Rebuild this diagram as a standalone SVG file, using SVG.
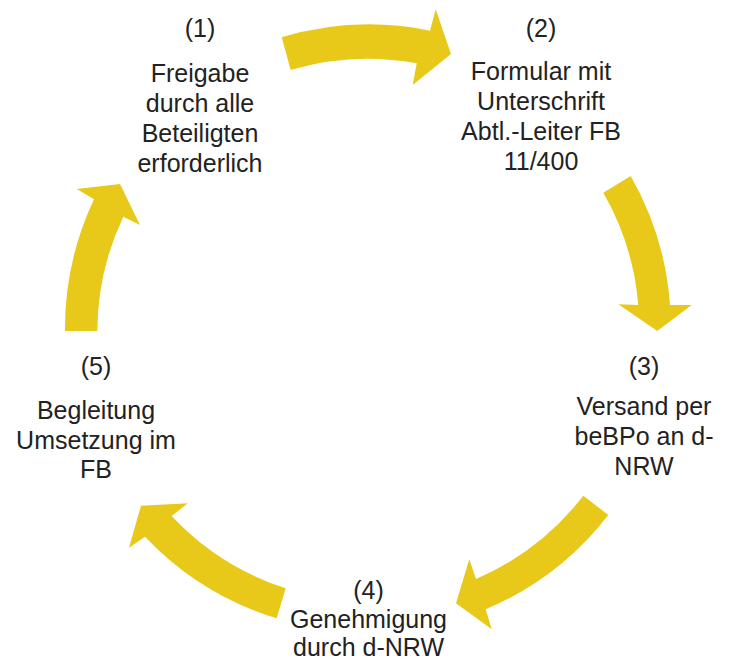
<svg xmlns="http://www.w3.org/2000/svg" width="729" height="663" viewBox="0 0 729 663">
<style>
.arr{fill:#E8C91A;stroke:none}
.t{font-family:"Liberation Sans",Arial,sans-serif;font-size:25px;fill:#222;text-anchor:middle}
</style>
<rect width="729" height="663" fill="#fff"/>
<g id="connectors">
<path class="arr" d="M281.7,37.3 A303,303 0 0 1 430,30.7 L435.7,9.3 L451,54 L412.7,85 L416.7,63.3 A270,270 0 0 0 290.7,70 Z"/>
<path class="arr" d="M630.7,176 A303,303 0 0 1 670,305 L691.7,305 L657.3,331 L618.3,304.3 L638.3,305 A270,270 0 0 0 603.3,192.7 Z"/>
<path class="arr" d="M608.3,515 A303,303 0 0 1 485.7,609.3 L491.7,629.3 L456,603.3 L469.3,559.3 L476,579 A270,270 0 0 0 583.3,495.7 Z"/>
<path class="arr" d="M276.7,618.3 A303,303 0 0 1 145,536.7 L129,547.7 L141,505.7 L187.7,503.3 L171.7,516 A270,270 0 0 0 285.7,588.3 Z"/>
<path class="arr" d="M65,331 A303,303 0 0 1 94,199.3 L76.7,189 L120,184 L140,225 L123.3,216.7 A270,270 0 0 0 97.3,331 Z"/>
</g>
<g id="node1">
<text class="t" x="200" y="37">(1)</text>
<text class="t" x="200" y="82">Freigabe</text>
<text class="t" x="200" y="112">durch alle</text>
<text class="t" x="200" y="142">Beteiligten</text>
<text class="t" x="200" y="172">erforderlich</text>
</g>
<g id="node2">
<text class="t" x="541" y="37">(2)</text>
<text class="t" x="541" y="80">Formular mit</text>
<text class="t" x="541" y="110">Unterschrift</text>
<text class="t" x="541" y="140">Abtl.-Leiter FB</text>
<text class="t" x="541" y="170">11/400</text>
</g>
<g id="node3">
<text class="t" x="644" y="375">(3)</text>
<text class="t" x="644" y="415">Versand per</text>
<text class="t" x="644" y="445">beBPo an d-</text>
<text class="t" x="644" y="475">NRW</text>
</g>
<g id="node4">
<text class="t" x="368.5" y="599">(4)</text>
<text class="t" x="368.5" y="628">Genehmigung</text>
<text class="t" x="368.5" y="656">durch d-NRW</text>
</g>
<g id="node5">
<text class="t" x="96" y="375">(5)</text>
<text class="t" x="96" y="419">Begleitung</text>
<text class="t" x="96" y="449">Umsetzung im</text>
<text class="t" x="96" y="478">FB</text>
</g>
</svg>
